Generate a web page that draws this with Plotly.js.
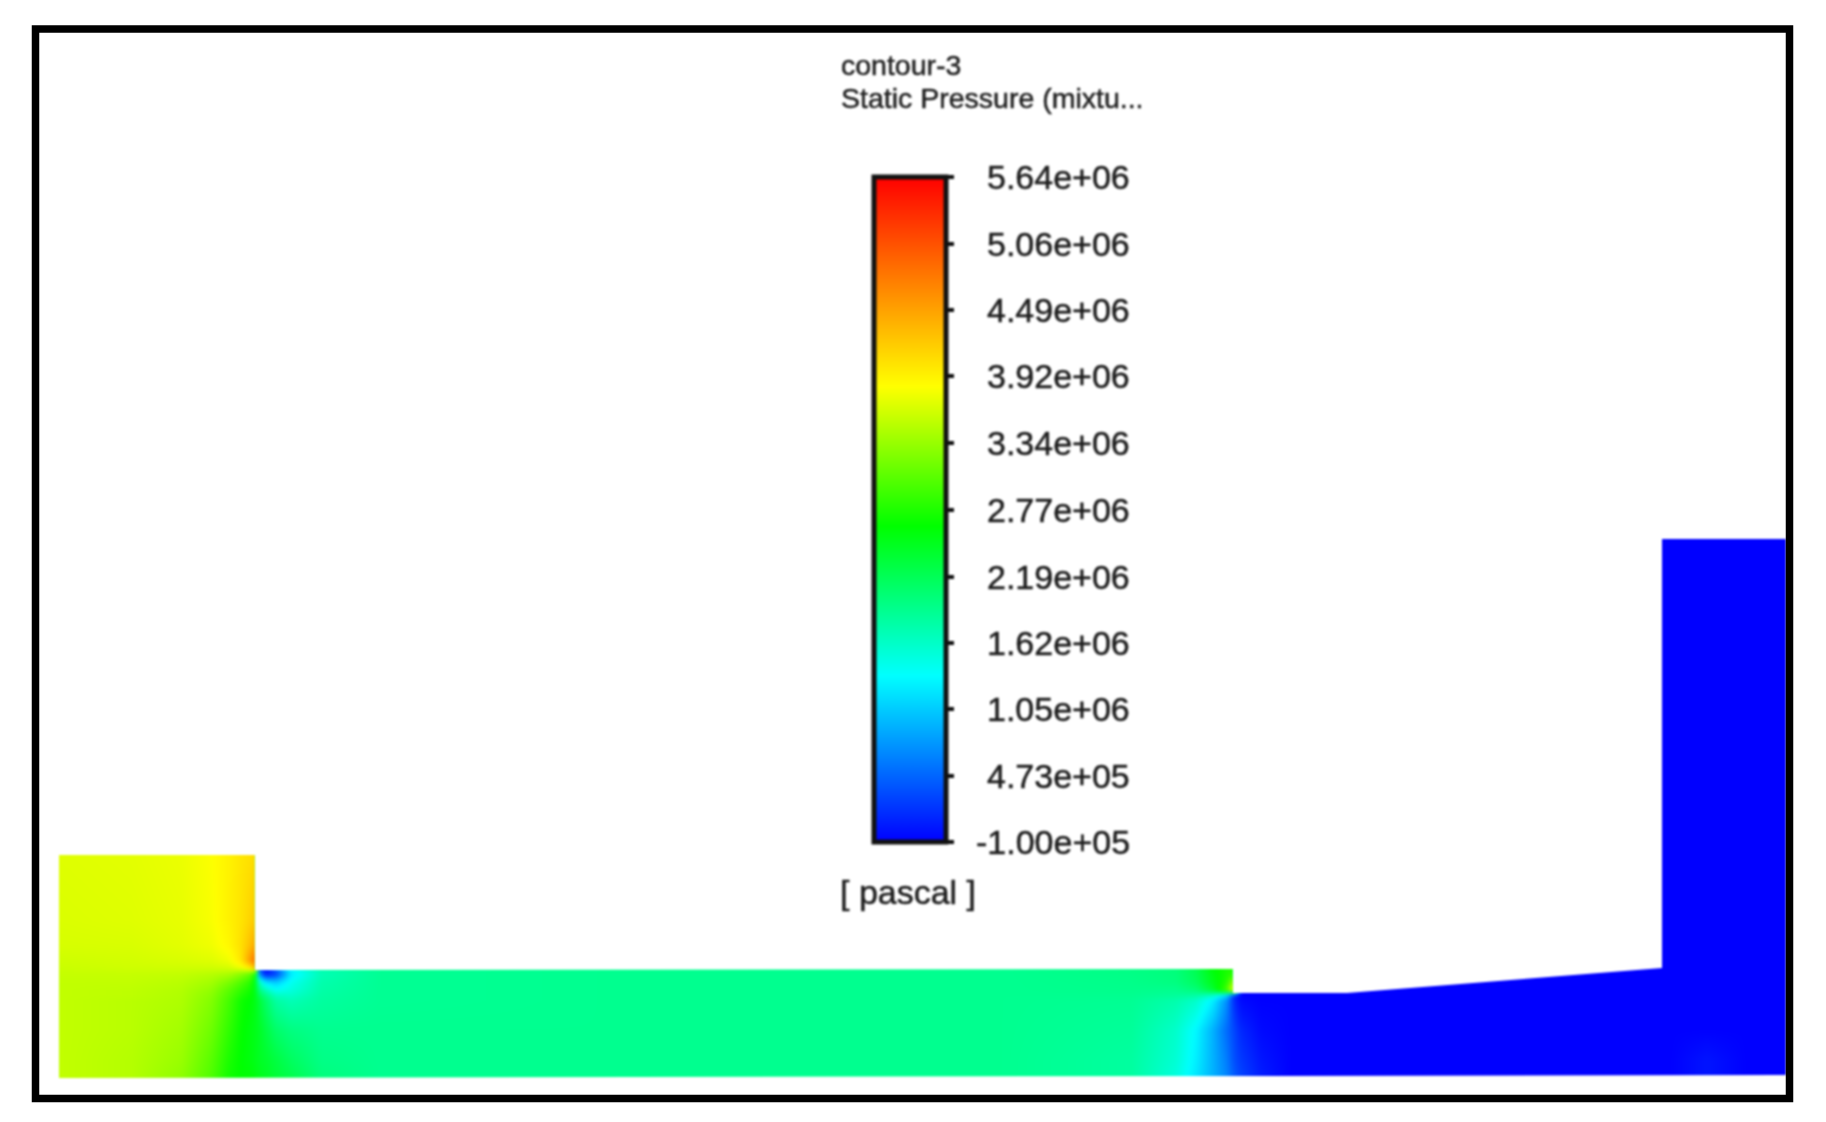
<!DOCTYPE html>
<html>
<head>
<meta charset="utf-8">
<script src="https://cdn.plot.ly/plotly-3.0.1.min.js"></script>
<style>
html,body{margin:0;padding:0;background:#fff;}
#g{width:1826px;height:1122px;}
.annotation{filter:blur(1px);}
.annotation text{stroke:#222;stroke-width:0.5px;}
.colorbar{filter:blur(0.8px);}
.heatmaplayer image{filter:blur(2px);}
.scatterlayer .js-fill{filter:blur(1.1px);}
</style>
</head>
<body>
<div id="g"></div>
<script>
// Static pressure sampled by eye across the flow domain (MPa)
var gridX = [59,130,180,210,228,240,250,255, 258,265,275,290,320,380, 600,1000,1130, 1175,1195,1212,1226,1233, 1240,1260,1290,1340,1500, 1670,1706,1745,1786];
var gridY = [539,855,920,945,960,968,973,982,990,995,1000,1030,1060,1078];
var p539  = [3.68,3.70,3.74,3.82,3.92,4.00,4.05,4.10, 1.9,1.9,1.9,1.9,1.9,1.9, 1.9,1.9,1.9, 1.9,1.9,1.9,1.9,1.9, -.1,-.1,-.1,-.1,-.1, -.1,-.1,-.1,-.1];
var p855  = [3.68,3.70,3.74,3.82,3.92,4.00,4.05,4.10, 1.9,1.9,1.9,1.9,1.9,1.9, 1.9,1.9,1.9, 1.9,1.9,1.9,1.9,1.9, -.1,-.1,-.1,-.1,-.1, -.1,-.1,-.1,-.1];
var p920  = [3.66,3.68,3.72,3.80,3.92,4.02,4.15,4.25, 1.9,1.9,1.9,1.9,1.9,1.9, 1.9,1.9,1.9, 1.9,1.9,1.9,1.9,1.9, -.1,-.1,-.1,-.1,-.1, -.1,-.1,-.1,-.1];
var p945  = [3.64,3.65,3.70,3.76,3.88,4.05,4.30,4.55, 1.9,1.9,1.9,1.9,1.9,1.9, 1.9,1.9,1.9, 1.9,1.9,1.9,1.9,1.9, -.1,-.1,-.1,-.1,-.1, -.1,-.1,-.1,-.1];
var p960  = [3.60,3.62,3.65,3.68,3.76,4.00,4.60,5.00, 1.9,1.9,1.9,1.9,1.9,1.9, 1.9,1.9,1.95, 2.0,2.2,2.6,2.75,2.8, -.1,-.1,-.1,-.1,-.1, -.1,-.1,-.1,-.1];
var p968  = [3.58,3.60,3.60,3.60,3.62,3.72,3.95,4.40, .5,.1,.6,1.4,1.75,1.88, 1.9,1.9,1.95, 2.0,2.2,2.6,2.75,2.8, -.1,-.1,-.1,-.1,-.1, -.1,-.1,-.1,-.1];
var p973  = [3.56,3.56,3.55,3.50,3.45,3.30,3.10,2.60, .6,-.05,.2,1.2,1.7,1.88, 1.9,1.9,1.95, 2.0,2.2,2.55,2.75,2.8, -.1,-.1,-.1,-.1,-.1, -.1,-.1,-.1,-.1];
var p982  = [3.54,3.54,3.50,3.40,3.20,3.00,2.80,2.40, 1.7,1.2,1.05,1.4,1.75,1.88, 1.9,1.9,1.93, 1.98,2.15,2.5,2.8,3.4, -.1,-.1,-.1,-.1,-.1, -.1,-.1,-.1,-.1];
var p990  = [3.54,3.52,3.47,3.32,3.05,2.85,2.70,2.45, 2.0,1.7,1.4,1.5,1.78,1.88, 1.9,1.9,1.92, 1.9,2.0,2.35,3.0,3.9, -.1,-.1,-.1,-.1,-.1, -.1,-.1,-.1,-.1];
var p995  = [3.54,3.52,3.46,3.28,3.00,2.78,2.65,2.48, 2.2,1.95,1.65,1.6,1.8,1.88, 1.9,1.9,1.9, 1.85,1.8,1.6,1.1,.1, -.1,-.1,-.1,-.1,-.1, -.1,-.1,-.1,-.1];
var p1000 = [3.54,3.50,3.45,3.25,2.95,2.70,2.60,2.50, 2.35,2.10,1.80,1.70,1.82,1.88, 1.9,1.9,1.88, 1.75,1.6,1.25,.7,.15, -.05,-.1,-.1,-.1,-.1, -.1,-.1,-.1,-.1];
var p1030 = [3.54,3.50,3.40,3.15,2.85,2.65,2.55,2.50, 2.45,2.30,2.10,1.98,1.9,1.9, 1.9,1.9,1.85, 1.6,1.3,.9,.5,.3, .12,-.05,-.1,-.1,-.1, -.1,-.1,-.1,-.1];
var p1060 = [3.54,3.48,3.35,3.05,2.75,2.62,2.55,2.50, 2.45,2.40,2.30,2.15,1.95,1.9, 1.9,1.9,1.82, 1.55,1.25,.9,.6,.35, .22,.02,-.1,-.1,-.1, -.1,.01,-.1,-.1];
var p1078 = [3.54,3.48,3.30,3.00,2.70,2.62,2.60,2.55, 2.50,2.45,2.35,2.25,2.00,1.9, 1.9,1.9,1.82, 1.5,1.2,.9,.65,.42, .28,.06,-.1,-.1,-.1, -.1,.01,-.1,-.1];
var pressure = [p539,p855,p920,p945,p960,p968,p973,p982,p990,p995,p1000,p1030,p1060,p1078];

// Geometry outside the fluid domain
var outsideX = [0,1786,1786,1662,1662,1347,1233,1233,255,255,59,59,1786,1786,0, null, 1786,1826,1826,1786];
var outsideY = [0,0,539,539,968,993,993,969,970,855,855,1078,1075,1122,1122, null, 0,0,1122,1122];

// Colour legend
var legendVals = [-0.1,0.473,1.05,1.62,2.19,2.77,3.34,3.92,4.49,5.06,5.64];
var legendText = ['-1.00e+05','4.73e+05','1.05e+06','1.62e+06','2.19e+06','2.77e+06','3.34e+06','3.92e+06','4.49e+06','5.06e+06','5.64e+06'];
var rainbow = [[0,'#0000ff'],[0.25,'#00ffff'],[0.475,'#00ff00'],[0.685,'#ffff00'],[1,'#ff0000']];
var FONT = '"Liberation Sans", Arial, sans-serif';
var INK = '#1c1c1c';

var annotations = legendVals.map(function(v,i){
  return {xref:'x',yref:'y2',x:1132,y:v,text:legendText[i],showarrow:false,xanchor:'right',yanchor:'middle',
          font:{family:FONT,size:34,color:INK}};
});
annotations.push({xref:'x',yref:'y',x:839,y:65,text:'contour-3',showarrow:false,xanchor:'left',yanchor:'middle',font:{family:FONT,size:28.5,color:INK}});
annotations.push({xref:'x',yref:'y',x:839,y:98,text:'Static Pressure (mixtu...',showarrow:false,xanchor:'left',yanchor:'middle',font:{family:FONT,size:28.5,color:INK}});
annotations.push({xref:'x',yref:'y',x:838,y:892,text:'[ pascal ]',showarrow:false,xanchor:'left',yanchor:'middle',font:{family:FONT,size:34,color:INK}});

var traces = [
 {type:'heatmap',x:gridX,y:gridY,z:pressure,zsmooth:'best',zmin:-0.1,zmax:5.64,colorscale:rainbow,hoverinfo:'skip',
  showscale:true,
  colorbar:{xref:'paper',yref:'paper',x:874/1826,xanchor:'left',xpad:0,ypad:0,y:1-177/1122,yanchor:'top',
            thickness:72,thicknessmode:'pixels',len:665,lenmode:'pixels',
            outlinewidth:5,outlinecolor:'#111',borderwidth:0,
            tickmode:'array',tickvals:legendVals,ticktext:legendText,showticklabels:false,
            ticks:'outside',ticklen:6,tickwidth:4,tickcolor:'#111'}},
 {type:'scatter',x:outsideX,y:outsideY,mode:'none',fill:'toself',fillcolor:'#ffffff',hoverinfo:'skip',showlegend:false}
];

var layout = {
 width:1826,height:1122,margin:{l:0,r:0,t:0,b:0},paper_bgcolor:'#fff',plot_bgcolor:'rgba(0,0,0,0)',showlegend:false,
 xaxis:{range:[0,1826],visible:false,fixedrange:true},
 yaxis:{range:[1122,0],visible:false,fixedrange:true},
 yaxis2:{range:[-0.1,5.64],domain:[1-842/1122,1-177/1122],anchor:'x',visible:false,fixedrange:true},
 annotations:annotations,
 shapes:[{type:'rect',xref:'x',yref:'y',x0:35.5,x1:1789.5,y0:29,y1:1098.5,line:{color:'#000',width:7.5},fillcolor:'rgba(0,0,0,0)',layer:'above'}]
};
Plotly.newPlot('g',traces,layout,{staticPlot:true,displayModeBar:false});
</script>
</body>
</html>
